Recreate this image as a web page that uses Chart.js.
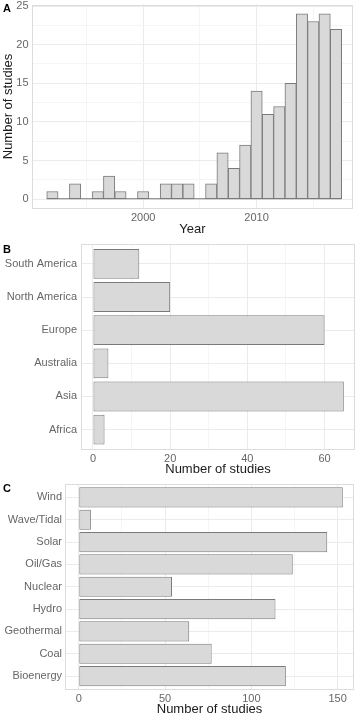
<!DOCTYPE html>
<html>
<head>
<meta charset="utf-8">
<script src="https://cdn.jsdelivr.net/npm/chart.js@4"></script>
<style>
  body { margin: 0; background: #fff; }
  canvas { display: block; }
</style>
</head>
<body>
<canvas id="chartA" width="357" height="237"></canvas>
<canvas id="chartB" width="357" height="240"></canvas>
<canvas id="chartC" width="357" height="240"></canvas>
<script>
// Panel A: studies per publication year
const years = [1992, 1993, 1994, 1995, 1996, 1997, 1998, 1999, 2000, 2001, 2002, 2003, 2004,
  2005, 2006, 2007, 2008, 2009, 2010, 2011, 2012, 2013, 2014, 2015, 2016, 2017];
const yearCounts = [1, 0, 2, 0, 1, 3, 1, 0, 1, 0, 2, 2, 2, 0, 2, 6, 4, 7, 14, 11, 12, 15, 24, 23, 24, 22];

// Panel B: studies per continent (bottom to top)
const regions = ['Africa', 'Asia', 'Australia', 'Europe', 'North America', 'South America'];
const regionCounts = [3, 65, 4, 60, 20, 12];

// Panel C: studies per energy source (bottom to top)
const sources = ['Bioenergy', 'Coal', 'Geothermal', 'Hydro', 'Nuclear', 'Oil/Gas', 'Solar', 'Wave/Tidal', 'Wind'];
const sourceCounts = [120, 77, 64, 114, 54, 124, 144, 7, 153];

// tick labels
const yearTicks = [2000, 2010];
const yearMinor = [1995, 2005, 2015];
const countTicksA = [0, 5, 10, 15, 20, 25];
const countMinorA = [2.5, 7.5, 12.5, 17.5, 22.5];
const countTicksB = [0, 20, 40, 60];
const countMinorB = [10, 30, 50];
const countTicksC = [0, 50, 100, 150];
const countMinorC = [25, 75, 125];

const FONT = "'Liberation Sans', Arial, sans-serif";
const BAR_FILL = '#d9d9d9';
const BAR_EDGE = '#7a7a7a';
const GRID_MAJOR = '#ebebeb';
const GRID_MINOR = '#f5f5f5';
const FRAME = '#dcdcdc';
const TICK_COLOR = '#666666';
const TITLE_COLOR = '#1a1a1a';

// fixed ticks, with minor ones unlabeled
function fixedTicks(major, minor) {
  return scale => {
    scale.ticks = major.concat(minor).sort((a, b) => a - b).map(v => ({ value: v }));
  };
}

function gridColor(minor) {
  return ctx => (ctx.tick && minor.includes(ctx.tick.value)) ? GRID_MINOR : GRID_MAJOR;
}

function fixSize(prop, size) {
  return scale => {
    scale[prop] = size;
    scale.paddingTop = 0;
    scale.paddingBottom = 0;
    scale.paddingLeft = 0;
    scale.paddingRight = 0;
  };
}

// draws panel frame, letter, and the zero line of empty histogram bins
const panelDecor = {
  id: 'panelDecor',
  beforeDatasetsDraw(chart, args, opts) {
    if (!opts.baseline) return;
    const { ctx, scales: { x, y } } = chart;
    const [from, to] = opts.baseline;
    const yPix = y.getPixelForValue(0);
    ctx.save();
    ctx.strokeStyle = BAR_EDGE;
    ctx.lineWidth = 1;
    ctx.beginPath();
    ctx.moveTo(x.getPixelForValue(from), yPix - 0.5);
    ctx.lineTo(x.getPixelForValue(to), yPix - 0.5);
    ctx.stroke();
    ctx.restore();
  },
  afterDraw(chart, args, opts) {
    const { ctx, chartArea: a } = chart;
    ctx.save();
    ctx.strokeStyle = FRAME;
    ctx.lineWidth = 1;
    ctx.strokeRect(Math.round(a.left) + 0.5, Math.round(a.top) + 0.5,
      Math.round(a.right - a.left) - 1, Math.round(a.bottom - a.top) - 1);
    ctx.fillStyle = '#000';
    ctx.font = 'bold 11px ' + FONT;
    ctx.textBaseline = 'alphabetic';
    ctx.fillText(opts.letter, 3, opts.letterY);
    ctx.restore();
  }
};

const barStyle = {
  backgroundColor: BAR_FILL,
  borderColor: BAR_EDGE,
  borderWidth: 1,
  borderSkipped: false
};

function tickFont() {
  return { family: FONT, size: 11 };
}
function titleFont() {
  return { family: FONT, size: 13 };
}

// ---- Panel A: histogram over years
new Chart(document.getElementById('chartA'), {
  type: 'bar',
  data: {
    datasets: [Object.assign({
      data: years.map((yr, i) => ({ x: yr, y: yearCounts[i] })),
      barPercentage: 1,
      categoryPercentage: 1
    }, barStyle)]
  },
  options: {
    responsive: false,
    animation: false,
    devicePixelRatio: 1,
    layout: { padding: { top: 4.5, right: 4, left: 0, bottom: 0 } },
    plugins: {
      legend: { display: false },
      tooltip: { enabled: false },
      panelDecor: { letter: 'A', letterY: 11.7, baseline: [years[0] - 0.5, years[years.length - 1] + 0.5] }
    },
    scales: {
      x: {
        type: 'linear',
        min: 1990.2,
        max: 2018.5,
        offset: false,
        afterBuildTicks: fixedTicks(yearTicks, yearMinor),
        afterFit: fixSize('height', 28.5),
        grid: { offset: false, drawTicks: false, color: gridColor(yearMinor) },
        border: { display: false },
        ticks: {
          autoSkip: false, maxRotation: 0, padding: 3, color: TICK_COLOR, font: tickFont(),
          callback: v => yearTicks.includes(v) ? String(v) : ''
        },
        title: { display: true, text: 'Year', color: TITLE_COLOR, font: titleFont(), padding: 0 }
      },
      y: {
        min: -1.2,
        max: 25.2,
        afterBuildTicks: fixedTicks(countTicksA, countMinorA),
        afterFit: fixSize('width', 32),
        grid: { drawTicks: false, color: gridColor(countMinorA) },
        border: { display: false },
        ticks: {
          autoSkip: false, padding: 3.5, color: TICK_COLOR, font: tickFont(),
          callback: v => countTicksA.includes(v) ? String(v) : ''
        },
        title: { display: true, text: 'Number of studies', color: TITLE_COLOR, font: titleFont(), padding: { top: 1, bottom: 0 } }
      }
    }
  },
  plugins: [panelDecor]
});

// ---- horizontal bar panels (B and C)
function horizontalPanel(canvasId, names, counts, major, minor, xMin, xMax, axisWidth, labelPad, letter, letterY) {
  const positions = names.map((n, i) => i + 1);
  return new Chart(document.getElementById(canvasId), {
    type: 'bar',
    data: {
      datasets: [Object.assign({
        data: counts.map((c, i) => ({ x: c, y: positions[i] })),
        barPercentage: 0.9,
        categoryPercentage: 1
      }, barStyle)]
    },
    options: {
      indexAxis: 'y',
      responsive: false,
      animation: false,
      devicePixelRatio: 1,
      layout: { padding: { top: 7, right: 357 - xMax.right, left: 0, bottom: 0 } },
      plugins: {
        legend: { display: false },
        tooltip: { enabled: false },
        panelDecor: { letter: letter, letterY: letterY }
      },
      scales: {
        x: {
          type: 'linear',
          min: xMin,
          max: xMax.value,
          afterBuildTicks: fixedTicks(major, minor),
          afterFit: fixSize('height', 27.5),
          grid: { drawTicks: false, color: gridColor(minor) },
          border: { display: false },
          ticks: {
            autoSkip: false, maxRotation: 0, padding: 3, color: TICK_COLOR, font: tickFont(),
            callback: v => major.includes(v) ? String(v) : ''
          },
          title: { display: true, text: 'Number of studies', color: TITLE_COLOR, font: titleFont(), padding: 0 }
        },
        y: {
          type: 'linear',
          min: 0.4,
          max: names.length + 0.6,
          offset: false,
          afterBuildTicks: fixedTicks(positions, []),
          afterFit: fixSize('width', axisWidth),
          grid: { offset: false, drawTicks: false, color: GRID_MAJOR },
          border: { display: false },
          ticks: {
            autoSkip: false, padding: labelPad, color: TICK_COLOR, font: tickFont(),
            callback: v => names[v - 1]
          }
        }
      }
    },
    plugins: [panelDecor]
  });
}

horizontalPanel('chartB', regions, regionCounts, countTicksB, countMinorB,
  -3.1, { value: 67.9, right: 355 }, 81, 4, 'B', 15.5);
horizontalPanel('chartC', sources, sourceCounts, countTicksC, countMinorC,
  -8, { value: 159.5, right: 354 }, 65, 3, 'C', 14.7);
</script>
</body>
</html>
